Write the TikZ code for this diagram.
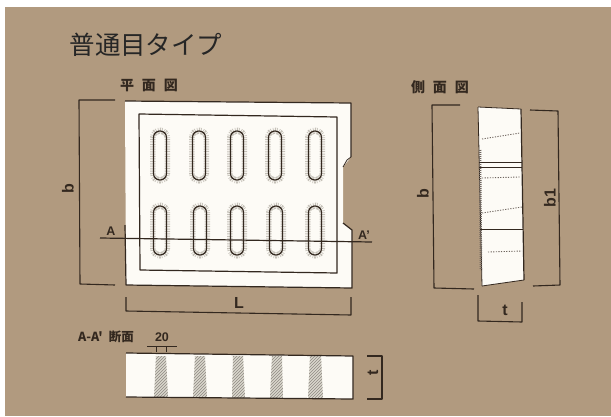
\documentclass[tikz,border=0pt]{standalone}
\usepackage{fontspec}
\setmainfont{Liberation Sans}
\newfontfamily\cjk{Noto Sans CJK JP}
\usetikzlibrary{patterns}
\definecolor{bgc}{HTML}{B19A7F}
\definecolor{ink}{HTML}{33281F}
\definecolor{plate}{HTML}{FDFBF6}
\definecolor{halo}{HTML}{8F897C}
\definecolor{hatchc}{HTML}{DAD7CC}
\tikzset{
  x=1pt,y=-1pt,
  dim/.style={draw=ink,line width=1.1pt,line join=round},
  edge/.style={draw=ink,line width=1.2pt,line join=round},
  thin edge/.style={draw=ink,line width=0.8pt},
  lab/.style={text=ink,inner sep=0pt,font=\bfseries\fontsize{16}{16}\selectfont},
  small lab/.style={text=ink,inner sep=0pt,font=\bfseries\fontsize{12.5}{13}\selectfont},
  jlab/.style={text=ink,inner sep=0pt,font=\cjk\bfseries\fontsize{14}{14}\selectfont},
  speck/.style={draw=ink!70!plate,line width=0.9pt,dash pattern=on 1.2pt off 1.4pt},
}
\newcommand{\slotshape}[2]{%
  \draw[halo,line width=7pt,dash pattern=on 0.7pt off 1pt,opacity=.5,rounded corners=6.4pt]
    (#1-6.5,#2) rectangle (#1+6.5,#2+49);
  \fill[plate,rounded corners=4pt] (#1-4.5,#2+3) rectangle (#1+4.5,#2+46);
  \draw[draw=ink,line width=1.2pt,rounded corners=6.4pt]
    (#1-6.5,#2) rectangle (#1+6.5,#2+49);
}
\newcommand{\hatchslot}[4]{%
  \fill[hatchc] (#1,356) -- (#2,356) -- (#4,398) -- (#3,398) -- cycle;
  \fill[pattern=north east lines,pattern color=ink!55] (#1,356) -- (#2,356) -- (#4,398) -- (#3,398) -- cycle;
}
\begin{document}
\begin{tikzpicture}
\useasboundingbox (0,0) rectangle (611,416);
\fill[white] (0,0) rectangle (611,416);
\fill[bgc] (5,7) rectangle (611,416);

% title
\node[anchor=center,inner sep=0pt,text=black!85,font=\cjk\fontsize{25.5}{26}\selectfont] (title) at (146,45) {普通目タイプ};

% plan view
\node[jlab] (plantitle) at (149,85) {平\hspace{8pt}面\hspace{8pt}図};
\fill[plate] (125,101) -- (351,103) -- (351,157) -- (343,167) -- (343,223) -- (352,230) -- (352,288) -- (126,285) -- cycle;
\draw[edge] (125,101) -- (351,103) -- (351,157);
\draw[thin edge] (351,157) -- (347,160) -- (343,167);
\draw[edge] (343,223) -- (352,230) -- (352,288) -- (126,285) -- (125,225);
\draw[edge] (139,114) -- (337,117) -- (337,273) -- (140,270) -- cycle;
\foreach \sx in {160,199,237,275,315}{\slotshape{\sx}{131}}
\foreach \sx in {160,200,237,276,315}{\slotshape{\sx}{206}}
\coordinate (secL) at (100,238);
\coordinate (secR) at (372,242);
\draw[edge] (secL) -- (secR);
\node[small lab] (la) at (111,231) {A};
\node[small lab] (lap) at (364,235) {A'};
\draw[dim] (115,100) -- (79,100) -- (80,284) -- (115,285);
\node[lab,rotate=90] (lb) at (68,189) {b};
\draw[dim] (126,297) -- (126,311) -- (351,315) -- (351,297);
\node[lab] (ll) at (239,303) {L};

% side view
\node[jlab] (sidetitle) at (440,87) {側\hspace{8pt}面\hspace{8pt}図};
\fill[plate] (478,107) -- (521,109) -- (524,280) -- (482,286) -- cycle;
\draw[edge] (521,109) -- (524,280);
\draw[thin edge] (478,107) -- (521,109);
\draw[thin edge] (482,286) -- (524,280);
\draw[thin edge] (478,107) -- (482,286);
\draw[speck,line width=2.5pt,dash pattern=on 0.8pt off 1.2pt] (480,150) -- (481,270);
\draw[thin edge] (479,162) -- (522,162);
\draw[thin edge] (479,167) -- (522,167);
\draw[thin edge] (480,229) -- (523,229);
\draw[speck] (482,139) -- (520,133);
\draw[speck] (482,178) -- (520,177);
\draw[speck] (482,213) -- (522,207);
\draw[speck] (488,252) -- (522,251);
\draw[dim] (460,105) -- (432,105) -- (434,288) -- (474,289);
\node[lab,rotate=90] (lb2) at (423,194) {b};
\draw[dim] (530,110) -- (558,111) -- (560,285) -- (533,286);
\node[lab,rotate=90] (lb1) at (550,198) {b1};
\draw[dim] (478,295) -- (478,321) -- (522,322) -- (522,302);
\node[lab] (lt) at (505,310) {t};

% section
\node[jlab,font=\cjk\bfseries\fontsize{12.5}{13}\selectfont] (sectitle) at (106,337) {A-A'\hspace{6pt}断面};
\node[small lab] (l20) at (162,337) {20};
\draw[thin edge] (147,346) -- (177,346);
\draw[thin edge] (156,346) -- (156,352);
\draw[thin edge] (166,346) -- (166,352);
\fill[plate] (126,353) -- (353,356) -- (353,399) -- (126,397) -- cycle;
\hatchslot{156}{166}{154}{168}
\hatchslot{195}{205}{193}{207}
\hatchslot{233}{243}{232}{245}
\hatchslot{272}{282}{270}{283}
\hatchslot{310}{321}{308}{323}
\draw[edge] (126,353) -- (353,356) -- (353,399) -- (126,397);
\draw[dim] (367,356) -- (382,356) -- (382,399) -- (367,399);
\node[lab,rotate=90] (lt2) at (373,373) {t};
\end{tikzpicture}
\end{document}
